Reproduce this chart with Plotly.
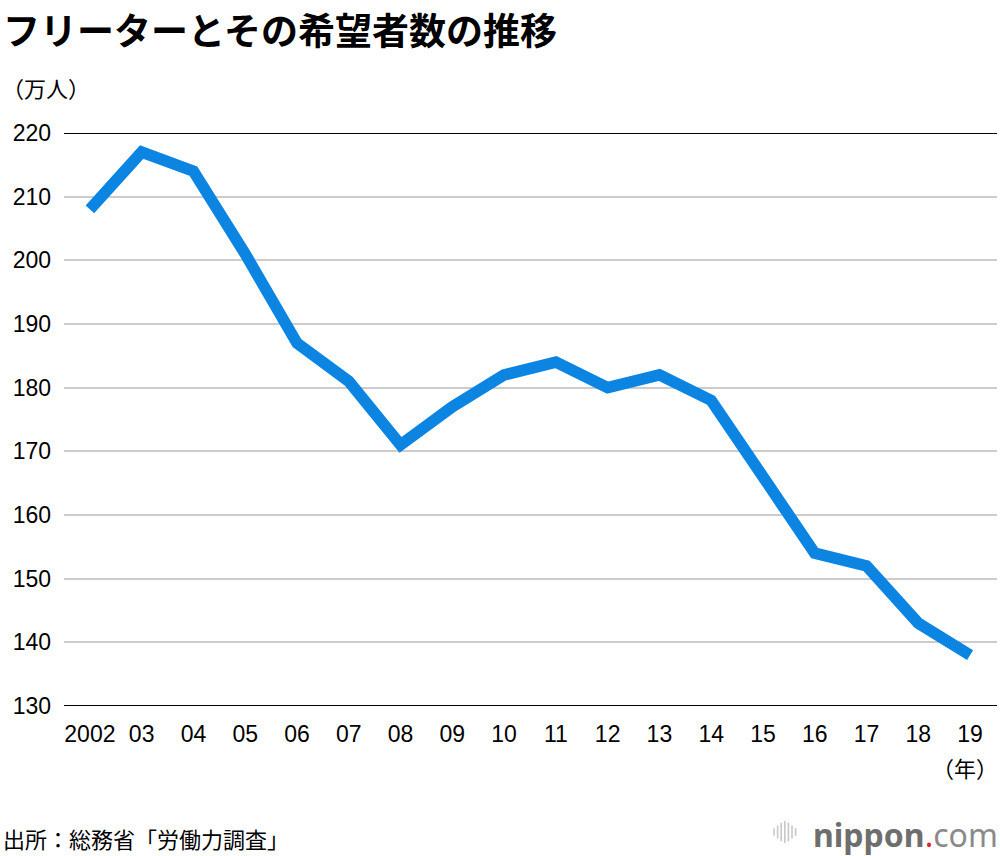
import plotly.graph_objects as go

# data
years = ["2002", "03", "04", "05", "06", "07", "08", "09", "10",
         "11", "12", "13", "14", "15", "16", "17", "18", "19"]
freeters = [208, 217, 214, 201, 187, 181, 171, 177, 182,
            184, 180, 182, 178, 166, 154, 152, 143, 138]
y_ticks = [130, 140, 150, 160, 170, 180, 190, 200, 210, 220]

num_font = "Liberation Sans, Noto Sans CJK JP, sans-serif"
jp_font = "Noto Sans CJK JP, sans-serif"

fig = go.Figure()
fig.add_trace(go.Scatter(x=list(range(len(years))), y=freeters, mode="lines",
                         line=dict(color="#0b84e2", width=11.5),
                         hoverinfo="skip", showlegend=False))

fig.update_layout(
    width=1000, height=856,
    margin=dict(l=64, r=3, t=133, b=150),
    paper_bgcolor="white", plot_bgcolor="white",
    font=dict(family=num_font, color="black"),
    xaxis=dict(range=[-0.5, 17.52], tickmode="array",
               tickvals=list(range(len(years))), ticktext=years,
               tickfont=dict(size=23, family=num_font), showgrid=False,
               zeroline=False, showline=False, ticks="", ticklabelstandoff=12),
    yaxis=dict(range=[130, 220], tickmode="array", tickvals=y_ticks,
               tickfont=dict(size=23, family=num_font),
               showgrid=True, gridcolor="#cccccc", gridwidth=2,
               zeroline=False, showline=False, ticks="", ticklabelstandoff=12),
)

# black top and bottom frame lines
for yv in (130, 220):
    fig.add_shape(type="line", xref="paper", yref="y", x0=0, x1=1, y0=yv, y1=yv,
                  line=dict(color="black", width=2))

left_edge = -64 / 933
fig.add_annotation(text="<b>フリーターとその希望者数の推移</b>", xref="paper", yref="paper",
                   x=left_edge, y=1.0, xanchor="left", yanchor="top",
                   yshift=133, xshift=1, showarrow=False,
                   font=dict(size=37, family=jp_font, color="black"))
fig.add_annotation(text="（万人）", xref="paper", yref="paper",
                   x=left_edge, y=1.0, xanchor="left", yanchor="middle",
                   yshift=46, showarrow=False,
                   font=dict(size=22, family=jp_font, color="black"))
fig.add_annotation(text="（年）", xref="paper", yref="paper",
                   x=1.0, y=0.0, xanchor="right", yanchor="middle",
                   yshift=-61, xshift=3, showarrow=False,
                   font=dict(size=22, family=jp_font, color="black"))
fig.add_annotation(text="出所：総務省「労働力調査」", xref="paper", yref="paper",
                   x=left_edge, y=0.0, xanchor="left", yanchor="middle",
                   yshift=-132, xshift=1, showarrow=False,
                   font=dict(size=22, family=jp_font, color="black"))
fig.add_annotation(
    text="<b><span style='color:#6e6e6e'>nippon</span></b>"
         "<span style='color:#e8222c'>.</span>"
         "<span style='color:#8a8a8a'>com</span>",
    xref="paper", yref="paper", x=1.0, y=0.0, xanchor="right", yanchor="middle",
    yshift=-128, xshift=3, showarrow=False,
    font=dict(size=32, family="Noto Sans, sans-serif"))

# little bar icon in front of the logo
bar_h = [0.35, 0.6, 0.85, 1.0, 0.85, 0.6, 0.35]
for i, h in enumerate(bar_h):
    xp = (774 + i * 3.6 - 64) / 933
    half = 11 * h
    fig.add_shape(type="line", xref="paper", yref="paper",
                  x0=xp, x1=xp,
                  y0=(706 - 832 - half) / 573, y1=(706 - 832 + half) / 573,
                  line=dict(color="#c8c8c8", width=1.6))

fig.write_html("out.html", config={"displayModeBar": False},
               post_script="document.body.style.margin='0';")
